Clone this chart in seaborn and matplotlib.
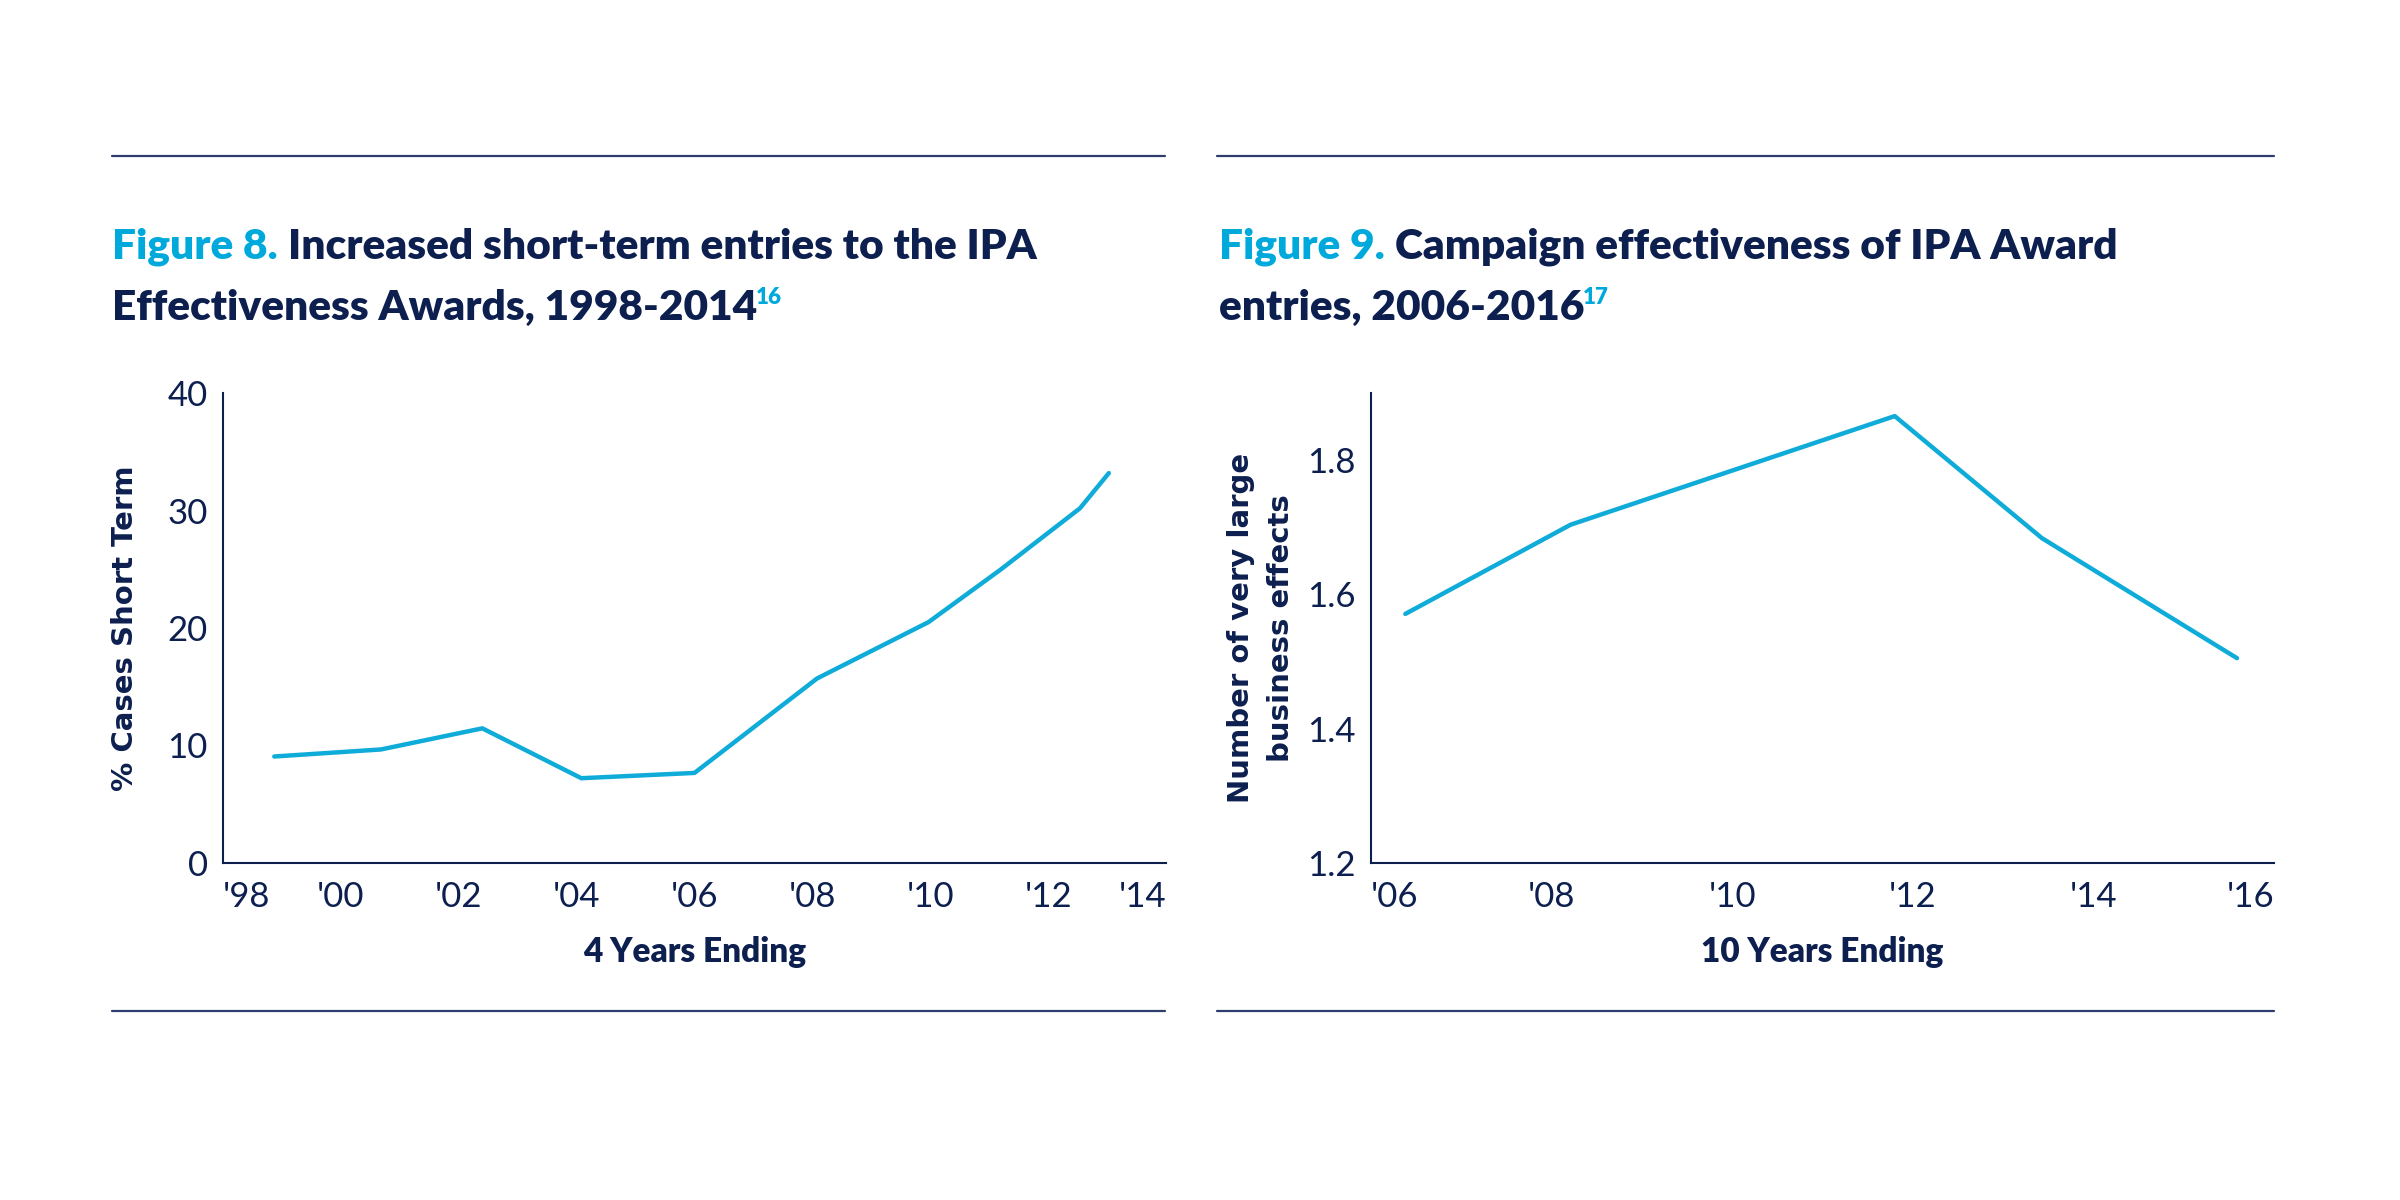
import matplotlib
matplotlib.use("Agg")
import matplotlib.pyplot as plt
import seaborn as sns
import pandas as pd
from matplotlib.lines import Line2D

# === 1. Values ===
fig8_years = [1998.87, 2000.68, 2002.40, 2004.08, 2006.0, 2008.08, 2009.97, 2011.2, 2012.54, 2013.03]
fig8_short_term = [9.05, 9.65, 11.45, 7.2, 7.65, 15.7, 20.5, 25.0, 30.2, 33.2]
fig8_xticks = [1998, 2000, 2002, 2004, 2006, 2008, 2010, 2012, 2014]
fig8_xticklabels = ["'98", "'00", "'02", "'04", "'06", "'08", "'10", "'12", "'14"]
fig8_yticks = [0, 10, 20, 30, 40]

fig9_years = [2006.38, 2008.21, 2011.80, 2013.43, 2015.59]
fig9_effects = [1.571, 1.704, 1.866, 1.684, 1.505]
fig9_xticks = [2006, 2008, 2010, 2012, 2014, 2016]
fig9_xticklabels = ["'06", "'08", "'10", "'12", "'14", "'16"]
fig9_yticks = [1.2, 1.4, 1.6, 1.8]

NAVY = "#0c1f4f"
CYAN = "#00a9dc"
LINE = "#10acd9"
RULE = "#2e3d6e"

sns.set_style("white")
plt.rcParams["font.family"] = ["Lato", "DejaVu Sans"]

W, H = 2400, 1200
fig = plt.figure(figsize=(24, 12), dpi=100)

def fx(px):
    return px / W

def fy(py):
    return 1 - py / H

# axes boxes in pixels of the reference
ax8 = fig.add_axes([fx(223), fy(862.7), fx(1166 - 223), (862.7 - 393.3) / H])
ax9 = fig.add_axes([fx(1371), fy(862.7), fx(2274 - 1371), (862.7 - 393.3) / H])

df8 = pd.DataFrame({"year": fig8_years, "value": fig8_short_term})
df9 = pd.DataFrame({"year": fig9_years, "value": fig9_effects})
sns.lineplot(data=df8, x="year", y="value", ax=ax8, color=LINE, linewidth=3.2)
sns.lineplot(data=df9, x="year", y="value", ax=ax9, color=LINE, linewidth=3.2)


def style_axis(ax, xticks, xlabels, yticks, ylim, yfmt):
    ax.set_xlim(xticks[0], xticks[-1])
    ax.set_ylim(*ylim)
    ax.set_xticks(xticks)
    ax.set_xticklabels(xlabels)
    ax.set_yticks(yticks)
    ax.set_yticklabels([yfmt(v) for v in yticks])
    for side in ["top", "right"]:
        ax.spines[side].set_visible(False)
    for side in ["left", "bottom"]:
        ax.spines[side].set_color(NAVY)
        ax.spines[side].set_linewidth(1.5)
    ax.tick_params(axis="both", direction="in", length=11, width=1.5,
                   color=NAVY, labelcolor=NAVY, labelsize=25)
    ax.tick_params(axis="x", pad=13)
    ax.tick_params(axis="y", pad=11)
    labs = ax.get_xticklabels()
    labs[0].set_horizontalalignment("left")
    labs[-1].set_horizontalalignment("right")
    ax.set_facecolor("white")


style_axis(ax8, fig8_xticks, fig8_xticklabels, fig8_yticks, (0, 40), lambda v: f"{v:g}")
style_axis(ax9, fig9_xticks, fig9_xticklabels, fig9_yticks, (1.2, 1.9), lambda v: f"{v:.1f}")

ax8.set_xlabel("4 Years Ending", fontsize=24, fontweight="heavy", color=NAVY, labelpad=17)
ax9.set_xlabel("10 Years Ending", fontsize=24, fontweight="heavy", color=NAVY, labelpad=17)

ax8.set_ylabel("% Cases Short Term", fontsize=21, fontweight="bold", color=NAVY,
               family="DejaVu Sans")
ax8.yaxis.set_label_coords(-0.089, 0.5)
ax9.set_ylabel("Number of very large\nbusiness effects", fontsize=21, fontweight="bold",
               color=NAVY, family="DejaVu Sans", linespacing=1.55)
ax9.yaxis.set_label_coords(-0.084, 0.5)

# === 2. Rules above and below each panel ===
for x0, x1 in [(112, 1165), (1217, 2274)]:
    for y in [155.7, 1011]:
        fig.add_artist(Line2D([fx(x0), fx(x1)], [fy(y), fy(y)], transform=fig.transFigure,
                              color=RULE, linewidth=1.6))

# === 3. Two-colour titles ===
renderer = fig.canvas.get_renderer()
TSIZE = 30.5


def draw_title(x, fig_label, line1, line2, note):
    t = fig.text(fx(x), fy(259), fig_label + " ", color=CYAN, fontsize=TSIZE,
                 fontweight="heavy", va="baseline")
    bb = t.get_window_extent(renderer)
    fig.text(bb.x1 / W, fy(259), line1, color=NAVY, fontsize=TSIZE,
             fontweight="heavy", va="baseline")
    t2 = fig.text(fx(x), fy(320), line2, color=NAVY, fontsize=TSIZE,
                  fontweight="heavy", va="baseline")
    bb2 = t2.get_window_extent(renderer)
    fig.text(bb2.x1 / W - 0.0005, fy(320) + 0.013, note, color=CYAN, fontsize=16,
             fontweight="heavy", va="baseline")


draw_title(112, "Figure 8.", "Increased short-term entries to the IPA",
           "Effectiveness Awards, 1998-2014", "16")
draw_title(1219, "Figure 9.", "Campaign effectiveness of IPA Award",
           "entries, 2006-2016", "17")

fig.savefig("out.png", dpi=100, facecolor="white")
